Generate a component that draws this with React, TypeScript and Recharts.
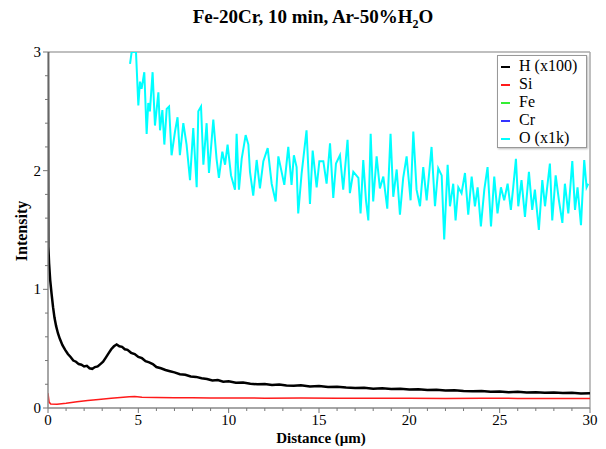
import { LineChart, Line, XAxis, YAxis, ReferenceLine } from "recharts";

// depth profile
const xMajorTicks = [0, 5, 10, 15, 20, 25, 30];
const xMinorTicks = [0, 1, 2, 3, 4, 5, 6, 7, 8, 9, 10, 11, 12, 13, 14, 15, 16, 17, 18, 19, 20, 21, 22, 23, 24, 25, 26, 27, 28, 29, 30];
const yMajorTicks = [0, 1, 2, 3];
const yMinorTicks = [0, 0.2, 0.4, 0.6, 0.8, 1, 1.2, 1.4, 1.6, 1.8, 2, 2.2, 2.4, 2.6, 2.8, 3];

const hValues: [number, number][] = [
  [0, 3.0], [0.02, 1.36], [0.06, 1.22], [0.12, 1.08], [0.2, 0.96], [0.28, 0.85], [0.36, 0.76],
  [0.45, 0.69], [0.55, 0.63], [0.65, 0.585], [0.8, 0.53], [0.95, 0.49], [1.1, 0.455], [1.25, 0.43],
  [1.4, 0.4], [1.55, 0.39], [1.7, 0.37], [1.85, 0.365], [2.0, 0.35], [2.15, 0.355], [2.3, 0.335],
  [2.45, 0.33], [2.6, 0.345], [2.75, 0.35], [2.9, 0.37], [3.05, 0.39], [3.2, 0.425], [3.35, 0.46],
  [3.5, 0.495], [3.65, 0.52], [3.8, 0.535], [3.95, 0.52], [4.1, 0.515], [4.25, 0.495], [4.4, 0.49],
  [4.6, 0.465], [4.8, 0.455], [5.0, 0.43], [5.2, 0.42], [5.4, 0.395], [5.6, 0.385], [5.8, 0.37],
  [6.0, 0.345], [6.25, 0.335], [6.5, 0.32], [6.75, 0.31], [7.0, 0.3], [7.3, 0.285], [7.6, 0.28],
  [7.9, 0.265], [8.2, 0.262], [8.5, 0.25], [8.8, 0.245], [9.1, 0.232], [9.4, 0.236], [9.7, 0.222],
  [10.0, 0.225], [10.4, 0.212], [10.8, 0.215], [11.2, 0.205], [11.6, 0.2], [12.0, 0.203], [12.4, 0.194],
  [12.8, 0.198], [13.2, 0.19], [13.6, 0.187], [14.0, 0.192], [14.5, 0.182], [15.0, 0.185], [15.5, 0.176],
  [16.0, 0.18], [16.5, 0.172], [17.0, 0.168], [17.5, 0.171], [18.0, 0.163], [18.5, 0.166], [19.0, 0.16],
  [19.5, 0.163], [20.0, 0.156], [20.5, 0.158], [21.0, 0.151], [21.5, 0.153], [22.0, 0.147], [22.5, 0.15],
  [23.0, 0.143], [23.5, 0.141], [24.0, 0.144], [24.5, 0.137], [25.0, 0.139], [25.5, 0.133], [26.0, 0.136],
  [26.5, 0.13], [27.0, 0.133], [27.5, 0.128], [28.0, 0.131], [28.5, 0.126], [29.0, 0.129], [29.5, 0.123],
  [30.0, 0.125],
];

const siValues: [number, number][] = [
  [0, 0.125], [0.06, 0.05], [0.15, 0.034], [0.5, 0.032], [1.0, 0.04], [1.6, 0.052], [2.2, 0.063],
  [2.8, 0.072], [3.5, 0.082], [4.0, 0.088], [4.5, 0.094], [4.8, 0.097], [5.2, 0.09], [6, 0.088],
  [7, 0.086], [8, 0.087], [9, 0.085], [10, 0.084], [12, 0.083], [14, 0.084], [16, 0.082], [18, 0.083],
  [20, 0.082], [22, 0.081], [24, 0.082], [26, 0.081], [28, 0.08], [30, 0.081],
];

const oValues: [number, number][] = [
  [4.54, 2.9], [4.63, 3.0], [4.87, 3.0], [5.0, 2.55], [5.09, 2.75], [5.18, 2.69], [5.33, 2.83],
  [5.46, 2.31], [5.55, 2.57], [5.64, 2.5], [5.79, 2.83], [5.92, 2.38], [6.11, 2.66], [6.2, 2.34],
  [6.33, 2.51], [6.44, 2.22], [6.57, 2.52], [6.7, 2.54], [6.84, 2.13], [7.03, 2.33], [7.17, 2.45],
  [7.3, 2.13], [7.49, 2.4], [7.67, 2.22], [7.86, 1.92], [8.04, 2.36], [8.23, 1.86], [8.32, 2.5],
  [8.47, 2.54], [8.6, 2.05], [8.78, 2.4], [8.91, 1.98], [9.15, 2.43], [9.33, 2.1], [9.46, 1.94],
  [9.65, 2.16], [9.8, 2.05], [9.94, 2.22], [10.13, 1.96], [10.35, 1.84], [10.44, 2.31], [10.57, 1.84],
  [10.72, 2.1], [10.94, 2.3], [11.09, 2.22], [11.18, 1.99], [11.36, 1.79], [11.55, 2.09], [11.73, 1.85],
  [11.92, 2.08], [12.16, 2.19], [12.38, 1.89], [12.6, 1.74], [12.75, 2.12], [12.93, 1.99], [13.08, 1.88],
  [13.3, 2.2], [13.48, 1.88], [13.61, 2.13], [13.76, 2.03], [13.85, 1.64], [14.04, 1.98], [14.13, 2.1],
  [14.31, 2.34], [14.5, 1.72], [14.65, 2.17], [14.87, 1.86], [15.02, 2.08], [15.24, 2.08], [15.42, 1.89],
  [15.61, 2.23], [15.79, 1.77], [15.94, 2.06], [16.16, 2.13], [16.34, 1.84], [16.58, 2.26], [16.71, 1.81],
  [16.9, 1.99], [17.18, 1.94], [17.3, 1.64], [17.45, 2.09], [17.6, 1.75], [17.73, 1.58], [17.86, 2.31],
  [18.0, 1.74], [18.19, 2.12], [18.37, 1.85], [18.56, 1.95], [18.78, 1.68], [18.96, 2.31], [19.11, 1.78],
  [19.3, 2.01], [19.48, 1.63], [19.66, 1.94], [19.85, 2.12], [20.07, 1.75], [20.22, 2.33], [20.4, 1.84],
  [20.59, 1.7], [20.77, 2.03], [20.96, 1.75], [21.23, 2.2], [21.42, 1.7], [21.6, 2.02], [21.79, 1.96],
  [21.93, 1.42], [22.12, 2.05], [22.25, 1.7], [22.43, 1.89], [22.56, 1.58], [22.71, 1.86], [22.89, 1.81],
  [23.08, 1.98], [23.26, 1.63], [23.45, 1.95], [23.63, 1.7], [23.78, 1.86], [23.96, 1.53], [24.15, 1.84],
  [24.33, 2.03], [24.52, 1.53], [24.7, 1.95], [24.88, 1.64], [25.07, 1.86], [25.25, 1.75], [25.44, 1.89],
  [25.62, 1.67], [25.75, 1.86], [25.9, 2.1], [26.03, 1.7], [26.21, 1.92], [26.4, 1.61], [26.62, 1.99],
  [26.8, 1.67], [26.95, 1.84], [27.17, 1.5], [27.36, 1.92], [27.51, 1.7], [27.78, 2.06], [27.91, 1.58],
  [28.1, 1.96], [28.28, 1.75], [28.47, 1.56], [28.61, 1.89], [28.8, 1.64], [29.02, 2.08], [29.17, 1.67],
  [29.31, 1.86], [29.5, 1.54], [29.68, 2.09], [29.81, 1.86], [29.9, 1.89],
];

const feValues: [number, number][] = [];
const crValues: [number, number][] = [];

const toPoints = (v: [number, number][]) => v.map(([x, y]) => ({ x, y }));

const series = [
  { name: "H (x100)", color: "#000000", width: 2.5, values: hValues },
  { name: "Si", color: "#ff1a1a", width: 1.5, values: siValues },
  { name: "Fe", color: "#33ee33", width: 1.5, values: feValues },
  { name: "Cr", color: "#3333ff", width: 1.5, values: crValues },
  { name: "O (x1k)", color: "#00ffff", width: 2, values: oValues },
];

const FONT = "'Liberation Serif', 'Times New Roman', serif";

const XTick = ({ x, y, payload }: any) => {
  const major = xMajorTicks.includes(payload.value);
  return (
    <g>
      <line x1={x} x2={x} y1={y} y2={y + (major ? 5 : 3)} stroke="#777" />
      {major && (
        <text x={x} y={y + 17} textAnchor="middle" fontFamily={FONT} fontSize={15} fill="#000">
          {payload.value}
        </text>
      )}
    </g>
  );
};

const YTick = ({ x, y, payload }: any) => {
  const major = yMajorTicks.includes(payload.value);
  return (
    <g>
      <line x1={x - (major ? 5 : 3)} x2={x} y1={y} y2={y} stroke="#777" />
      {major && (
        <text x={x - 7} y={y + 5} textAnchor="end" fontFamily={FONT} fontSize={15} fill="#000">
          {payload.value}
        </text>
      )}
    </g>
  );
};

export default function App() {
  return (
    <div style={{ position: "absolute", left: 0, top: 0, width: 606, height: 449, background: "#fff" }}>
      <div
        style={{
          position: "absolute",
          left: 113,
          top: 6,
          width: 400,
          textAlign: "center",
          fontFamily: FONT,
          fontWeight: "bold",
          fontSize: 19,
          lineHeight: "22px",
        }}
      >
        Fe-20Cr, 10 min, Ar-50%H<sub style={{ fontSize: 12, lineHeight: 0 }}>2</sub>O
      </div>
      <LineChart width={606} height={449} margin={{ top: 52, right: 16, bottom: 11, left: 18 }}>
        <XAxis
          dataKey="x"
          type="number"
          domain={[0, 30]}
          ticks={xMinorTicks}
          interval={0}
          tick={<XTick />}
          tickLine={false}
          tickSize={0}
          tickMargin={0}
          height={30}
          axisLine={{ stroke: "#888", strokeWidth: 1.5 }}
          allowDataOverflow
        />
        <YAxis
          type="number"
          domain={[0, 3]}
          ticks={yMinorTicks}
          interval={0}
          tick={<YTick />}
          tickLine={false}
          tickSize={0}
          tickMargin={0}
          width={30}
          axisLine={{ stroke: "#888", strokeWidth: 1.5 }}
          allowDataOverflow
        />
        <ReferenceLine y={3} stroke="#aaa" strokeWidth={1.5} />
        <ReferenceLine x={30} stroke="#aaa" strokeWidth={1.5} />
        {series.map((s) => (
          <Line
            key={s.name}
            data={toPoints(s.values)}
            dataKey="y"
            name={s.name}
            stroke={s.color}
            strokeWidth={s.width}
            dot={false}
            isAnimationActive={false}
          />
        ))}
        <text
          x={27}
          y={231}
          transform="rotate(-90 27 231)"
          textAnchor="middle"
          fontFamily={FONT}
          fontWeight="bold"
          fontSize={16}
        >
          Intensity
        </text>
        <text x={321} y={443} textAnchor="middle" fontFamily={FONT} fontWeight="bold" fontSize={15}>
          Distance (μm)
        </text>
      </LineChart>
      <div
        style={{
          position: "absolute",
          left: 497,
          top: 55,
          width: 90,
          height: 93,
          border: "1px solid #999",
          boxShadow: "1px 1px 2px #bbb",
          background: "#fff",
          fontFamily: FONT,
          fontSize: 16,
          paddingTop: 1,
          boxSizing: "border-box",
        }}
      >
        {series.map((s) => (
          <div key={s.name} style={{ height: 18, lineHeight: "18px", paddingLeft: 3, whiteSpace: "nowrap" }}>
            <span
              style={{
                display: "inline-block",
                width: 9,
                height: 2,
                background: s.color,
                verticalAlign: "middle",
                marginRight: 9,
              }}
            />
            {s.name}
          </div>
        ))}
      </div>
    </div>
  );
}
